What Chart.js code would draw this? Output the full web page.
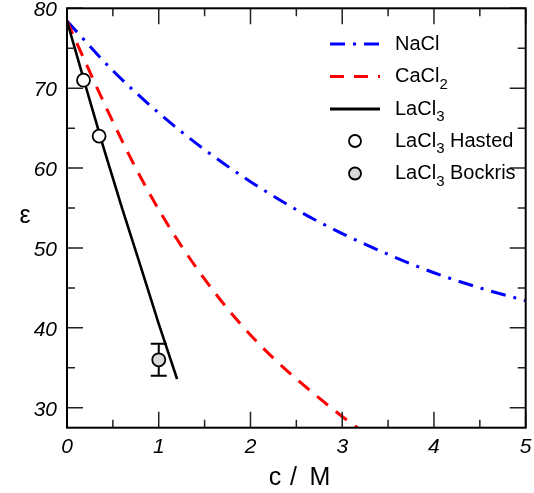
<!DOCTYPE html>
<html><head><meta charset="utf-8">
<script src="https://cdn.jsdelivr.net/npm/chart.js@4/dist/chart.umd.min.js"></script>
<style>html,body{margin:0;padding:0;background:#fff}#wrap{width:534px;height:493px}</style>
</head><body><div id="wrap"><canvas id="c" width="534" height="493"></canvas></div>
<script>
// ---- data ----
const naclC   = [0, 0.5, 1, 1.5, 2, 2.5, 3, 3.5, 4, 4.5, 5];
const naclEps = [78.4, 72.2, 66.9, 62.3, 58.3, 54.8, 51.8, 49.2, 46.9, 45.0, 43.4];
const cacl2C   = [0, 0.25, 0.5, 0.75, 1, 1.25, 1.5, 1.75, 2, 2.25, 2.5, 2.75, 3, 3.25];
const cacl2Eps = [78.4, 72.0, 65.8, 60.0, 54.8, 50.2, 46.1, 42.4, 39.1, 36.2, 33.6, 31.2, 28.9, 26.8];
const lacl3C   = [0, 0.2, 0.4, 0.6, 0.8, 1.0, 1.2];
const lacl3Eps = [78.4, 70.4, 62.5, 55.0, 47.8, 40.5, 33.6];
const hastedC   = [0.18, 0.35];
const hastedEps = [71, 64];
const bockrisC   = [1.0];
const bockrisEps = [36];
const bockrisErr = [2];
const xTicks = [0, 1, 2, 3, 4, 5];
const xMinor = [0.5, 1.5, 2.5, 3.5, 4.5];
const yTicks = [30, 40, 50, 60, 70, 80];
const yMinor = [35, 45, 55, 65, 75];

const pts = (xs, ys) => xs.map((x, i) => ({x: x, y: ys[i]}));
const FONT = "'Liberation Sans', Arial, Helvetica, sans-serif";
const NACL_DASH = [15, 8, 3, 8];
const CACL_DASH = [14, 10];

const errorBars = {
  id: 'errorBars',
  beforeDatasetsDraw(chart) {
    const {ctx, scales: {x, y}} = chart;
    ctx.save();
    ctx.strokeStyle = '#000';
    ctx.lineWidth = 2;
    bockrisC.forEach((c, i) => {
      const px = x.getPixelForValue(c);
      const pTop = y.getPixelForValue(bockrisEps[i] + bockrisErr[i]);
      const pBot = y.getPixelForValue(bockrisEps[i] - bockrisErr[i]);
      ctx.beginPath();
      ctx.moveTo(px, pTop); ctx.lineTo(px, pBot);
      ctx.moveTo(px - 8, pTop); ctx.lineTo(px + 8, pTop);
      ctx.moveTo(px - 8, pBot); ctx.lineTo(px + 8, pBot);
      ctx.stroke();
    });
    ctx.restore();
  }
};

const frameTicks = {
  id: 'frameTicks',
  afterDraw(chart) {
    const {ctx, chartArea: a, scales: {x, y}} = chart;
    ctx.save();
    ctx.strokeStyle = '#222';
    ctx.lineWidth = 1.5;
    const MAJ = 16, MIN = 8;
    ctx.beginPath();
    xTicks.concat(xMinor).forEach(v => {
      const len = xTicks.includes(v) ? MAJ : MIN;
      const px = x.getPixelForValue(v);
      ctx.moveTo(px, a.bottom); ctx.lineTo(px, a.bottom - len);
      ctx.moveTo(px, a.top); ctx.lineTo(px, a.top + len);
    });
    yTicks.concat(yMinor).forEach(v => {
      const len = yTicks.includes(v) ? MAJ : MIN;
      const py = y.getPixelForValue(v);
      ctx.moveTo(a.left, py); ctx.lineTo(a.left + len, py);
      ctx.moveTo(a.right, py); ctx.lineTo(a.right - len, py);
    });
    ctx.stroke();
    ctx.lineWidth = 2;
    ctx.strokeStyle = '#000';
    ctx.strokeRect(a.left, a.top, a.right - a.left, a.bottom - a.top);

    // axis titles
    ctx.fillStyle = '#000';
    ctx.font = '25px ' + FONT;
    ctx.textAlign = 'center';
    ctx.textBaseline = 'alphabetic';
    const tb = 485;
    ctx.fillText('c', 275, tb);
    ctx.fillText('/', 293.5, tb);
    ctx.fillText('M', 320, tb);
    ctx.fillText('ε', 25, 223);

    // legend
    const lx0 = 330, lx1 = 380, tx = 395, mx = 355;
    const rows = [44, 76.5, 109, 141, 173.5];
    const drawLabel = (yc, main, sub, rest) => {
      ctx.textAlign = 'left';
      ctx.textBaseline = 'alphabetic';
      ctx.font = '20px ' + FONT;
      const base = yc + 5.5;
      ctx.fillText(main, tx, base);
      let w = ctx.measureText(main).width;
      if (sub) {
        ctx.font = '15px ' + FONT;
        ctx.fillText(sub, tx + w, base + 6.5);
        w += ctx.measureText(sub).width;
        ctx.font = '20px ' + FONT;
      }
      if (rest) ctx.fillText(rest, tx + w, base);
    };
    const lineSample = (yc, color, dash, width) => {
      ctx.save();
      ctx.strokeStyle = color; ctx.lineWidth = width; ctx.setLineDash(dash);
      ctx.beginPath(); ctx.moveTo(lx0, yc); ctx.lineTo(lx1, yc); ctx.stroke();
      ctx.restore();
    };
    const marker = (yc, fill) => {
      ctx.save();
      ctx.fillStyle = fill; ctx.strokeStyle = '#000'; ctx.lineWidth = 1.8;
      ctx.beginPath(); ctx.arc(mx, yc, 6, 0, Math.PI * 2); ctx.fill(); ctx.stroke();
      ctx.restore();
    };
    lineSample(rows[0], '#0000ff', NACL_DASH, 3);
    drawLabel(rows[0], 'NaCl', '', '');
    lineSample(rows[1], '#ff0000', CACL_DASH, 3);
    drawLabel(rows[1], 'CaCl', '2', '');
    lineSample(rows[2], '#000000', [], 3);
    drawLabel(rows[2], 'LaCl', '3', '');
    marker(rows[3], '#ffffff');
    drawLabel(rows[3], 'LaCl', '3', ' Hasted');
    marker(rows[4], '#d9d9d9');
    drawLabel(rows[4], 'LaCl', '3', ' Bockris');
    ctx.restore();
  }
};

const tickFont = {family: FONT, size: 21, style: 'italic'};
const noPad = s => { s.paddingLeft = 0; s.paddingRight = 0; s.paddingTop = 0; s.paddingBottom = 0; };

new Chart(document.getElementById('c'), {
  type: 'scatter',
  data: {
    datasets: [
      {label: 'LaCl3 Bockris', data: pts(bockrisC, bockrisEps), showLine: false,
       pointRadius: 6.5, pointBackgroundColor: '#d9d9d9', pointBorderColor: '#000', pointBorderWidth: 1.8},
      {label: 'LaCl3 Hasted', data: pts(hastedC, hastedEps), showLine: false,
       pointRadius: 6.5, pointBackgroundColor: '#ffffff', pointBorderColor: '#000', pointBorderWidth: 1.8},
      {label: 'LaCl3', data: pts(lacl3C, lacl3Eps), showLine: true, pointRadius: 0,
       borderColor: '#000', borderWidth: 2.6, cubicInterpolationMode: 'monotone', clip: 0},
      {label: 'CaCl2', data: pts(cacl2C, cacl2Eps), showLine: true, pointRadius: 0,
       borderColor: '#ff0000', borderWidth: 3, borderDash: CACL_DASH, cubicInterpolationMode: 'monotone', clip: 0},
      {label: 'NaCl', data: pts(naclC, naclEps), showLine: true, pointRadius: 0,
       borderColor: '#0000ff', borderWidth: 3, borderDash: NACL_DASH, cubicInterpolationMode: 'monotone', clip: 0}
    ]
  },
  options: {
    responsive: false,
    animation: false,
    devicePixelRatio: 1,
    layout: {padding: {top: 7, right: 5, left: 0, bottom: 0}},
    plugins: {legend: {display: false}, tooltip: {enabled: false}, title: {display: false}},
    scales: {
      x: {
        type: 'linear', min: 0, max: 5,
        afterBuildTicks: s => { s.ticks = xTicks.map(v => ({value: v})); },
        afterFit: s => { s.height = 65.3; noPad(s); },
        grid: {display: false, drawTicks: false},
        border: {display: false},
        ticks: {font: tickFont, color: '#000', padding: 7, maxRotation: 0, autoSkip: false}
      },
      y: {
        type: 'linear', min: 27.5, max: 80,
        afterBuildTicks: s => { s.ticks = yTicks.map(v => ({value: v})); },
        afterFit: s => { s.width = 67; noPad(s); },
        grid: {display: false, drawTicks: false},
        border: {display: false},
        ticks: {font: tickFont, color: '#000', padding: 10, autoSkip: false, labelOffset: 2}
      }
    }
  },
  plugins: [errorBars, frameTicks]
});
</script>
</body></html>
